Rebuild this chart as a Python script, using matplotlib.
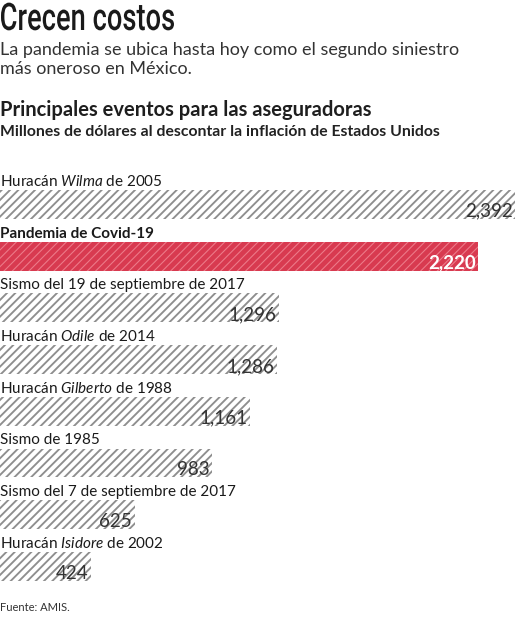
import matplotlib
matplotlib.use('Agg')
import matplotlib.pyplot as plt
from matplotlib.textpath import TextPath
from matplotlib.patches import PathPatch
from matplotlib.font_manager import FontProperties
from matplotlib.transforms import Affine2D

labels = [
    "Huracán $Wilma$ de 2005",
    "Pandemia de Covid-19",
    "Sismo del 19 de septiembre de 2017",
    "Huracán $Odile$ de 2014",
    "Huracán $Gilberto$ de 1988",
    "Sismo de 1985",
    "Sismo del 7 de septiembre de 2017",
    "Huracán $Isidore$ de 2002",
]
values = [2392, 2220, 1296, 1286, 1161, 983, 625, 424]
highlight = 1  # Covid-19

plt.rcParams['font.family'] = ['Lato', 'DejaVu Sans']
plt.rcParams['mathtext.fontset'] = 'custom'
plt.rcParams['mathtext.it'] = 'Lato:italic'
plt.rcParams['mathtext.rm'] = 'Lato'
plt.rcParams['hatch.linewidth'] = 1.35

W, H = 517, 620
fig = plt.figure(figsize=(W / 100, H / 100), dpi=100)


def fy(py):
    return 1 - py / H


# condensed title: squeeze a normal font horizontally
tp = TextPath((0, 0), "Crecen costos", size=38,
              prop=FontProperties(family='Roboto', weight='medium'))
ext = tp.get_extents()
sx = 173 / ext.width
tr = Affine2D().translate(-ext.x0, 0).scale(sx, 1).translate(1, H - 30)
fig.add_artist(PathPatch(tp, transform=tr, facecolor='#1a1a1a', edgecolor='none'))

fig.text(0.0, fy(55), "La pandemia se ubica hasta hoy como el segundo siniestro",
         fontsize=13, color='#333333', va='baseline')
fig.text(0.0, fy(74), "más oneroso en México.", fontsize=13, color='#333333', va='baseline')
fig.text(0.0, fy(116), "Principales eventos para las aseguradoras", fontsize=14.5,
         weight='bold', color='#1e1e1e', va='baseline')
fig.text(0.0, fy(136), "Millones de dólares al descontar la inflación de Estados Unidos",
         fontsize=11.3, weight='bold', color='#222222', va='baseline')
fig.text(0.0, fy(611), "Fuente: AMIS.", fontsize=8, color='#333333', va='baseline')

# bar area
top, bottom = 178.6, 592.3
ax = fig.add_axes([0, fy(bottom), 1, (bottom - top) / H])
n = len(values)
ax.set_xlim(0, 2400)
ax.set_ylim(n - 0.5, -0.5)
ax.axis('off')

bar_h = 0.56
for i, (lab, v) in enumerate(zip(labels, values)):
    if i == highlight:
        with plt.rc_context({'hatch.linewidth': 0.8}):
            ax.barh(i, v, height=bar_h, color='#d83a50', edgecolor='#ec7a89',
                    linewidth=0, hatch='////')
        ax.text(v - 12, i + bar_h / 2 - 0.04, f"{v:,}", ha='right', va='baseline',
                fontsize=13.5, color='white', weight='bold')
        ax.text(0, i - bar_h / 2 - 0.08, lab, ha='left', va='baseline',
                fontsize=11, weight='bold', color='#1a1a1a')
    else:
        ax.barh(i, v, height=bar_h, color='white', edgecolor='#8e8e8e',
                linewidth=0, hatch='////')
        ax.text(v - 12, i + bar_h / 2 - 0.04, f"{v:,}", ha='right', va='baseline',
                fontsize=13.5, color='#333333')
        ax.text(0, i - bar_h / 2 - 0.08, lab, ha='left', va='baseline',
                fontsize=11, color='#1a1a1a')

fig.savefig('out.png', dpi=100, facecolor='white')
